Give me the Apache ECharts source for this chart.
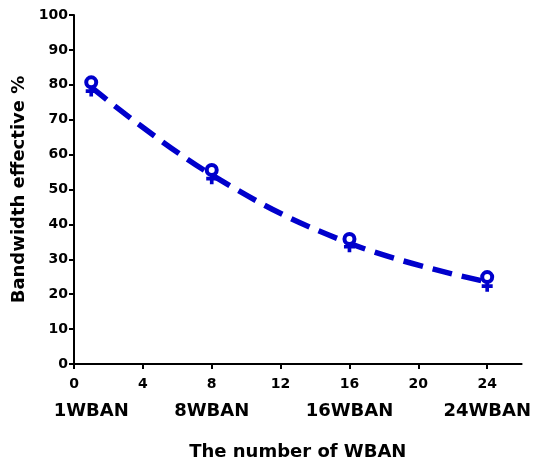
<!DOCTYPE html>
<html>
<head>
<meta charset="utf-8">
<script src="https://cdn.jsdelivr.net/npm/echarts@6/dist/echarts.min.js"></script>
<style>
  html, body { margin: 0; padding: 0; background: #fff; }
  #chart { width: 534px; height: 469px; }
</style>
</head>
<body>
<div id="chart"></div>
<script>
// Number of WBANs on the x axis
const wbanCounts = [1, 8, 16, 24];
const wbanNames = ['1WBAN', '8WBAN', '16WBAN', '24WBAN'];
// Bandwidth effectiveness (%) for the two measured series
const circleValues = [80.7, 55.6, 35.8, 24.9];
const plusValues = [78.2, 53.1, 33.6, 22.3];
// Fitted trend line
const fitValues = [79.3, 54.2, 34.6, 23.5];
// Axis ticks
const xTicks = [0, 4, 8, 12, 16, 20, 24];
const yTicks = [0, 10, 20, 30, 40, 50, 60, 70, 80, 90, 100];

const BLUE = '#0000cc';
const FONT = 'DejaVu Sans';

const pairs = vals => wbanCounts.map((x, i) => [x, vals[i]]);
const plusPath = 'path://M4,0h4v4h4v4h-4v4h-4v-4h-4v-4h4z';

const chart = echarts.init(document.getElementById('chart'), null, { renderer: 'canvas' });
chart.setOption({
  animation: false,
  backgroundColor: '#fff',
  grid: { left: 74, right: 6, top: 15, bottom: 105, containLabel: false },
  xAxis: [
    {
      type: 'value', min: 0, max: 26,
      splitLine: { show: false },
      axisLine: { show: true, onZero: false, lineStyle: { color: '#000', width: 2 } },
      axisTick: { show: true, length: 5, lineStyle: { color: '#000', width: 2 }, customValues: xTicks },
      axisLabel: {
        customValues: xTicks, margin: 13,
        color: '#000', fontFamily: FONT, fontWeight: 'bold', fontSize: 14
      },
      name: 'The number of WBAN', nameLocation: 'middle', nameGap: 79,
      nameTextStyle: { color: '#000', fontFamily: FONT, fontWeight: 'bold', fontSize: 18 }
    },
    {
      type: 'value', min: 0, max: 26, position: 'bottom',
      splitLine: { show: false },
      axisLine: { show: false },
      axisTick: { show: false },
      axisLabel: {
        customValues: wbanCounts, margin: 38,
        formatter: v => wbanNames[wbanCounts.indexOf(v)] || '',
        color: '#000', fontFamily: FONT, fontWeight: 'bold', fontSize: 18
      }
    }
  ],
  yAxis: {
    type: 'value', min: 0, max: 100, interval: 10,
    splitLine: { show: false },
    axisLine: { show: true, onZero: false, lineStyle: { color: '#000', width: 2 } },
    axisTick: { show: true, length: 5, lineStyle: { color: '#000', width: 2 } },
    axisLabel: {
      margin: 6, color: '#000', fontFamily: FONT, fontWeight: 'bold', fontSize: 14,
      formatter: v => yTicks.includes(v) ? String(v) : ''
    },
    name: 'Bandwidth effective %', nameLocation: 'middle', nameGap: 46, nameRotate: 90,
    nameTextStyle: { color: '#000', fontFamily: FONT, fontWeight: 'bold', fontSize: 18 }
  },
  series: [
    {
      type: 'line', data: pairs(fitValues), smooth: 0.4,
      symbol: 'none', z: 2,
      lineStyle: { color: BLUE, width: 5.5, type: [20, 10] }
    },
    {
      type: 'scatter', data: pairs(plusValues), z: 3,
      symbol: plusPath, symbolSize: 11,
      itemStyle: { color: BLUE, opacity: 1 }
    },
    {
      type: 'scatter', data: pairs(circleValues), z: 4,
      symbol: 'circle', symbolSize: 10,
      itemStyle: { color: '#fff', borderColor: BLUE, borderWidth: 4, opacity: 1 }
    }
  ]
});
</script>
</body>
</html>
